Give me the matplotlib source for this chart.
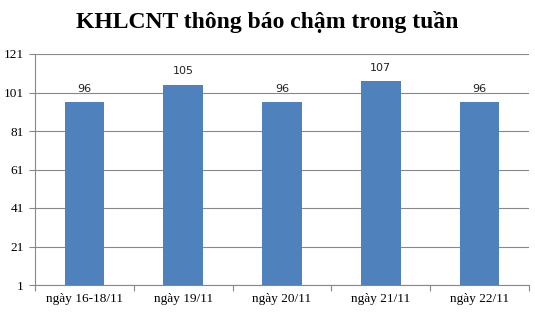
import matplotlib
matplotlib.use("Agg")
import matplotlib.pyplot as plt
import numpy as np

categories = ["ngày 16-18/11", "ngày 19/11", "ngày 20/11", "ngày 21/11", "ngày 22/11"]
values = [96, 105, 96, 107, 96]
yticks = [1, 21, 41, 61, 81, 101, 121]
title = "KHLCNT thông báo chậm trong tuần"

fig = plt.figure(figsize=(5.35, 3.14), dpi=100)
ax = fig.add_axes([35/535, 1-285/314, (529-35)/535, (285-54)/314])

x = np.arange(len(categories))
ax.bar(x, values, width=0.4, color="#4F81BD", zorder=3)

ax.set_xlim(-0.5, len(categories) - 0.5)
ax.set_ylim(1, 121)
ax.set_yticks(yticks)
ax.set_yticklabels([str(t) for t in yticks], family="Liberation Serif", fontsize=9.5)
ax.yaxis.grid(True, color="#888888", linewidth=0.8, zorder=0)
ax.tick_params(axis="y", length=4, color="#888888", pad=4)

ax.set_xticks(np.arange(len(categories) + 1) - 0.5)
ax.set_xticklabels([])
ax.tick_params(axis="x", which="major", length=4, color="#888888")
ax.set_xticks(x, minor=True)
ax.set_xticklabels(categories, minor=True, family="Liberation Serif", fontsize=9.5)
ax.tick_params(axis="x", which="minor", length=0, pad=6)

for s in ["top", "right"]:
    ax.spines[s].set_visible(False)
for s in ["left", "bottom"]:
    ax.spines[s].set_color("#888888")
    ax.spines[s].set_linewidth(0.8)

for xi, v in zip(x, values):
    ax.annotate(str(v), (xi, v), xytext=(0, 6), textcoords="offset points",
                ha="center", va="bottom", fontsize=8, family="DejaVu Sans", color="#222222")

fig.text(0.5, 1 - 22/314, title, ha="center", va="center", family="Liberation Serif",
         fontweight="bold", fontsize=17)

fig.savefig("out.png", dpi=100)
